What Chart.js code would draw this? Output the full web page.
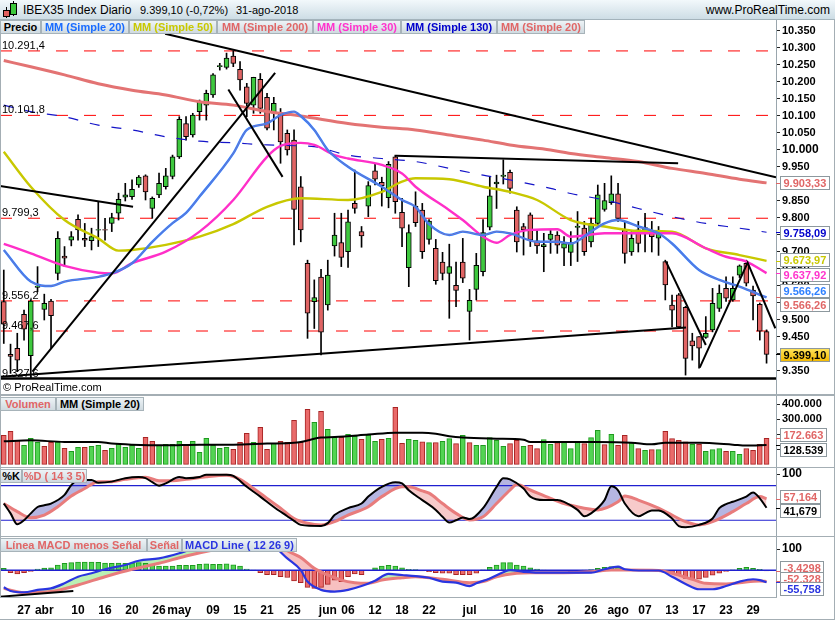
<!DOCTYPE html>
<html><head><meta charset="utf-8"><title>IBEX35 Index Diario</title>
<script src="https://cdn.jsdelivr.net/npm/chart.js@4.4.1/dist/chart.umd.min.js"></script>
<style>
html,body{margin:0;padding:0}
body{width:835px;height:620px;overflow:hidden;background:#fff;position:relative;font-family:"Liberation Sans",Arial,sans-serif}
#hdr{position:absolute;left:0;top:0;width:835px;height:20px;background:linear-gradient(#f2f8fb,#cddde5);border-bottom:1px solid #a3b3bb;box-sizing:border-box;z-index:6}
.ht{position:absolute;top:4px;font-size:11px;color:#000;white-space:nowrap;line-height:13px}
.lg{position:absolute;height:14px;line-height:12px;font-size:11px;font-weight:bold;text-align:center;white-space:nowrap;background:linear-gradient(#edf3f6,#cfdae0);border:1px solid #a7b3b9;box-sizing:border-box;z-index:5}
canvas{position:absolute;left:0;z-index:1}
.sep{position:absolute;background:#a4aeb4;z-index:4}
.abs{position:absolute;z-index:7}
</style></head><body>
<div id="hdr">
  <div class="abs" style="left:6px;top:7px;width:1px;height:11px;background:#000"></div>
  <div class="abs" style="left:3px;top:10px;width:7px;height:7px;background:#e06060;border:1px solid #000;box-sizing:border-box"></div>
  <div class="abs" style="left:13px;top:1px;width:1px;height:15px;background:#000"></div>
  <div class="abs" style="left:10px;top:3px;width:7px;height:12px;background:#3cc83c;border:1px solid #000;box-sizing:border-box"></div>
  <div class="ht" style="left:23px;font-size:12px">IBEX35 Index</div>
  <div class="ht" style="left:100px;font-size:12px">Diario</div>
  <div class="ht" style="left:140px">9.399,10 (-0,72%)</div>
  <div class="ht" style="left:236px">31-ago-2018</div>
  <div class="ht" style="right:5px;font-size:12px">www.ProRealTime.com</div>
</div>

<div class="lg" style="left:0;top:20px;width:41px;color:#000">Precio</div>
<div class="lg" style="left:41px;top:20px;width:88px;color:#1a6cff">MM (Simple 20)</div>
<div class="lg" style="left:129px;top:20px;width:88px;color:#c8c800">MM (Simple 50)</div>
<div class="lg" style="left:217px;top:20px;width:96px;color:#e06666">MM (Simple 200)</div>
<div class="lg" style="left:313px;top:20px;width:88px;color:#ff33cc">MM (Simple 30)</div>
<div class="lg" style="left:401px;top:20px;width:96px;color:#0000cc">MM (Simple 130)</div>
<div class="lg" style="left:497px;top:20px;width:88px;color:#e06666">MM (Simple 20)</div>

<div class="lg" style="left:0;top:397px;width:56px;color:#e06666">Volumen</div>
<div class="lg" style="left:56px;top:397px;width:88px;color:#000">MM (Simple 20)</div>

<div class="lg" style="left:0;top:469px;width:22px;color:#000">%K</div>
<div class="lg" style="left:22px;top:469px;width:65px;color:#e06666">%D ( 14 3 5)</div>

<div class="lg" style="left:0;top:538px;width:147px;color:#e06666">Línea MACD menos Señal</div>
<div class="lg" style="left:147px;top:538px;width:35px;color:#e06666">Señal</div>
<div class="lg" style="left:182px;top:538px;width:115px;color:#2a35e0">MACD Line ( 12 26 9)</div>

<div class="abs" style="left:3px;top:381px;font-size:11px;color:#000">© ProRealTime.com</div>

<canvas id="cPrice" width="835" height="374" style="top:20px"></canvas>
<canvas id="cVol" width="835" height="71" style="top:396px"></canvas>
<canvas id="cSto" width="835" height="68" style="top:468px"></canvas>
<canvas id="cMacd" width="835" height="83" style="top:537px"></canvas>

<div class="sep" style="left:0;top:394px;width:835px;height:2px"></div>
<div class="sep" style="left:0;top:467px;width:835px;height:1px"></div>
<div class="sep" style="left:0;top:536px;width:835px;height:1px"></div>
<div class="sep" style="left:0;top:597px;width:777px;height:1px"></div>
<div class="sep" style="left:0;top:619px;width:835px;height:1px"></div>
<div class="sep" style="left:0;top:20px;width:1px;height:577px"></div>
<div class="sep" style="left:834px;top:20px;width:1px;height:600px"></div>

<script>
const FONT = '"Liberation Sans", Arial, sans-serif';
// ---------------- DATA ----------------
// trading-day index: 0 = 10-abr-2018, first candle = -11 (22-mar-2018), last = 102 (31-ago-2018)
const FIRST = -11;
const openP = [9554,9399,9417,9517,9395,9596,9531,9556,9637,9688,9735,
  9796,9740,9733,9764,9766,9784,9814,9861,9863,9897,
  9924,9828,9868,9892,9922,9980,10078,10044,10113,10132,
  10162,10245,10243,10276,10237,10186,10132,10208,10155,10108,
  10108,10049,10029,9892,9667,9554,9626,9544,9718,9728,
  9701,9843,9760,9835,9939,9905,9860,9980,9817,9654,
  9835,9823,9737,9711,9670,9637,9602,9670,9525,9590,
  9642,9773,9900,9922,9934,9823,9775,9809,9733,9716,
  9737,9750,9711,9699,9772,9770,9730,9784,9825,9845,
  9871,9765,9700,9765,9755,9760,9741,9672,9544,9574,
  9537,9439,9451,9449,9471,9534,9593,9559,9632,9667,
  9588,9546,9466];
const highP = [9647,9429,9461,9529,9560,9657,9576,9561,9760,9716,9760,
  9809,9784,9770,9848,9799,9814,9873,9902,9912,9925,
  9927,9862,9932,9946,9985,10098,10098,10108,10147,10176,
  10225,10255,10285,10291,10260,10196,10214,10225,10167,10155,
  10122,10059,10059,9922,9676,9618,9649,9676,9814,9814,
  9823,9941,9775,9907,9961,9920,9966,9985,9858,9780,
  9877,9843,9795,9737,9699,9723,9670,9740,9590,9696,
  9795,9922,9926,9971,9941,9833,9784,9815,9765,9755,
  9765,9760,9745,9760,9819,9790,9800,9897,9902,9924,
  9902,9790,9760,9790,9814,9790,9775,9676,9573,9578,
  9540,9461,9451,9510,9593,9603,9627,9627,9662,9676,
  9600,9550,9471];
const lowP = [9431,9343,9348,9441,9328,9583,9500,9417,9618,9657,9718,
  9735,9716,9706,9716,9735,9760,9794,9850,9855,9890,
  9853,9799,9860,9885,9915,9975,10029,10038,10088,10088,
  10155,10235,10238,10245,10176,10098,10108,10108,10059,10059,
  9961,9985,9721,9730,9446,9475,9397,9529,9688,9657,
  9655,9814,9714,9804,9897,9835,9830,9814,9716,9598,
  9775,9681,9723,9605,9618,9505,9539,9610,9441,9559,
  9630,9765,9828,9900,9873,9700,9691,9716,9696,9642,
  9696,9696,9660,9660,9672,9690,9715,9775,9820,9840,
  9790,9667,9690,9700,9700,9700,9690,9559,9480,9475,
  9338,9382,9358,9446,9465,9525,9555,9555,9625,9600,
  9500,9441,9373];
const closeP = [9488,9393,9382,9473,9556,9600,9549,9513,9740,9682,9745,
  9765,9735,9745,9766,9764,9801,9855,9868,9884,9920,
  9877,9858,9902,9924,9980,10090,10039,10103,10142,10167,
  10221,10248,10270,10255,10206,10137,10214,10122,10064,10137,
  10024,10000,9825,9765,9520,9566,9464,9632,9750,9684,
  9789,9828,9747,9895,9914,9895,9958,9848,9770,9757,
  9786,9701,9791,9616,9637,9657,9587,9623,9558,9661,
  9757,9865,9906,9926,9887,9730,9765,9735,9718,9722,
  9753,9720,9725,9727,9776,9701,9784,9868,9851,9871,
  9799,9696,9740,9725,9772,9745,9755,9603,9529,9480,
  9387,9424,9417,9461,9549,9579,9564,9593,9659,9608,
  9571,9467,9399.10];

// moving averages (read at sample days)
const ma20X  = [-11,-7,-4,-2,3,5,8,11,14,16,18,23,25,28,30,32,33,35,37,40,45,48,50,52,55,57,60,62,64,68,71,73,76,78,80,83,86,88,92,95,98,102];
const ma20Y  = [9706,9613,9600,9613,9627,9637,9667,9730,9785,9815,9863,9990,10059,10078,10103,10113,10100,10059,10000,9951,9892,9853,9833,9782,9750,9760,9750,9760,9755,9730,9730,9725,9760,9784,9794,9775,9755,9725,9647,9618,9598,9566.26];
const ma50X  = [-11,-7,-2,3,6,8,13,18,23,28,33,40,45,48,50,55,60,64,68,73,78,83,88,93,98,102];
const ma50Y  = [9995,9892,9794,9740,9704,9706,9721,9745,9782,9833,9858,9853,9877,9907,9917,9914,9892,9877,9853,9794,9775,9762,9760,9711,9691,9673.97];
const ma200X = [-11,-7,-2,3,8,13,18,23,28,33,40,45,50,55,60,64,70,73,78,83,88,93,98,102];
const ma200Y = [10263,10245,10221,10195,10176,10162,10142,10132,10113,10100,10078,10067,10059,10044,10029,10015,10000,9990,9978,9966,9946,9931,9914,9903.33];
const ma30X  = [-11,-7,-2,3,5,8,13,18,23,28,30,33,35,38,40,45,48,50,55,57,60,62,64,67,71,73,78,83,88,93,96,99,102];
const ma30Y  = [9724,9696,9659,9639,9637,9667,9701,9760,9853,9980,10012,10021,10015,9985,9975,9956,9931,9892,9823,9794,9745,9727,9750,9765,9767,9745,9755,9755,9755,9711,9686,9672,9637.92];
const ma130X = [-11,-7,-2,3,8,13,18,23,28,33,35,40,45,50,55,60,64,70,73,78,83,88,93,98,102];
const ma130Y = [10132,10113,10098,10073,10059,10039,10026,10021,10015,10012,10010,9985,9975,9966,9946,9926,9912,9887,9872,9853,9828,9804,9784,9770,9758.09];

// drawn horizontal levels and trend lines (index, price)
const dashedLevels = [10291.4, 10101.8, 9799.3, 9556.2, 9467.6];
const supportLevel = 9327.6;
const trendLines = [
  [[12.9,10342],[103.4,9920]],
  [[-11.56,9894],[8.15,9833]],
  [[-6.77,9348],[29.2,10227]],
  [[22.27,10178],[30.3,9921]],
  [[-11.56,9333],[90.07,9478]],
  [[47.1,9983],[88.9,9961]],
  [[87.1,9671.5],[93.0,9426.5]],
  [[92.1,9359.7],[99.2,9668.5],[103.3,9475.6]]
];

// volume (thousands) and colour (1 = up)
const volK = [193,220,160,127,173,147,120,147,147,107,87,
  113,113,120,127,93,107,140,113,127,107,
  180,153,127,133,133,153,133,153,80,173,
  127,107,113,100,147,207,147,247,100,140,
  153,147,293,147,367,280,353,233,180,180,
  200,187,167,193,153,167,173,380,140,167,
  160,149,144,144,153,171,138,193,144,127,
  127,178,160,120,138,160,120,127,104,164,
  133,144,149,104,149,138,178,227,131,200,
  127,193,144,104,93,98,98,220,171,160,
  149,133,133,87,98,104,87,87,67,104,
  93,133,172.663];
const volUp = [0,0,0,1,1,1,0,0,1,0,1,
  1,0,1,1,0,1,1,1,1,1,
  0,0,1,1,1,1,0,1,1,1,
  1,1,1,0,0,0,1,0,0,1,
  0,0,0,0,0,1,0,1,1,0,
  1,1,0,1,1,0,1,0,0,1,
  1,0,1,0,1,1,0,1,0,1,
  1,1,1,1,0,0,1,0,0,1,
  1,0,1,1,1,0,1,1,0,1,
  0,0,1,0,1,0,1,0,0,0,
  0,1,0,1,1,1,0,1,1,0,
  0,0,0];
const vmaX = [-11,-7,-2,3,5,8,13,18,23,28,32,33,36,38,43,47,51,53,55,57,62,66,67,72,77,82,85,87,92,97,99,102];
const vmaK = [153,160,149,149,138,131,127,131,131,138,143,149,178,182,198,211,211,204,187,178,171,164,149,149,149,144,133,144,143,131,125,128.539];

// stochastic %K / %D (14 3 5)
const kX = [-11,-10,-9,-8,-7,-6,-5,-4,-2,-1,0,2,3,5,7,9,10,11,12,13,15,16,18,19,22,23,25,27,29,31,32,33,36,37,38,40,42,43,45,47,48,49,51,53,54,55,56,57,58,60,62,63,64,66,67,69,71,72,74,75,76,78,79,80,81,83,84,85,86,88,89,90,92,94,95,96,97,99,100,101,102];
const kY = [49,32,13,20,32,43,46,49,64,81,90,90,85,87,93,95,93,86,80,84,95,93,95,99,99,97,78,61,43,27,19,12,10,15,29,41,49,61,78,86,84,72,55,38,26,16,20,25,22,41,78,93,91,75,61,55,55,52,38,27,32,55,79,72,49,27,32,37,37,23,10,8,12,23,41,48,52,61,68,58,41.679];
const dX = [-11,-9,-7,-5,-3,-1,1,3,5,7,10,12,14,16,19,22,24,26,28,30,32,34,36,38,40,43,45,48,49,51,52,54,56,58,60,62,64,65,67,70,72,75,77,80,81,83,86,88,90,92,94,97,99,101,102];
const dY = [49,35,24.5,29,43.5,62,75,87,87,91,94.5,88.6,88.6,91,95.5,98,91,75,58,41,23,15,12,17.5,29,43.5,61,78,78,71,67,49,32,20.5,26,49,72.5,82,72.5,58,49,41,38,52,62,55,41,29,17.5,12,17.5,35,49,61,57.164];

// MACD (12 26 9)
const macdHist = [9,-11,-17,-11,-5,6,11,12,25,33,36,
  39,39,39,37,34,33,34,33,34,36,
  33,25,20,20,20,23,23,23,28,30,
  28,28,30,26,20,6,1,-11,-20,-20,
  -30,-34,-50,-58,-80,-85,-80,-66,-46,-53,
  -30,-17,-20,-2,12,20,23,20,12,4,
  3,-3,-6,-11,-14,-14,-20,-20,-20,-14,
  2,14,25,36,36,25,20,12,6,1,
  0,-1,-2,-5,-1,1,3,9,14,17,
  14,4,2,1,0,-1,-3,-9,-14,-23,
  -38,-42,-42,-33,-23,-14,-5,2,9,14,
  9,4,-3.4298];
const macdX = [-11,-10,-8,-6,-4,-2,0,2,4,7,9,12,15,18,20,23,26,28,29,31,33,34,36,38,40,42,44,46,48,50,52,54,56,58,59,61,63,64,66,70,73,76,78,80,81,84,86,88,90,92,94,96,98,100,101,102];
const macdY = [-80,-97,-103,-92,-85,-61,-30,-14,5,25,45,56,80,112,128,142,135,120,111,56,1,-53,-92,-100,-92,-74,-49,-17,-22,-27,-35,-53,-58,-74,-61,-38,-9,1,-7,-11,-11,-11,5,17,5,-1,-1,-30,-64,-89,-89,-74,-53,-42,-46,-55.758];
const sigX = [-11,-8,-4,0,4,8,12,16,20,23,26,28,30,31,33,35,37,39,41,43,45,48,50,54,58,60,62,65,67,72,76,79,81,86,88,91,93,96,98,101,102];
const sigY = [-85,-105,-100,-69,-30,5,33,67,95,112,125,130,115,92,60,9,-22,-46,-58,-61,-46,-35,-30,-42,-58,-53,-30,-14,-11,-11,-7,1,1,-1,-14,-42,-61,-64,-58,-50,-52.328];
const macdNote = [[-11.56,-124],[-0.7,-97]];

// x axis labels
const tickIdx = [-8,-5,0,4,8,12,15,20,24,28,32,37,40,44,48,52,58,64,68,72,76,80,84,88,92,96,100];
const tickLbl = ['27','abr','10','16','20','26','may','09','15','21','25','jun','06','12','18','22','jul','10','16','20','26','ago','07','13','17','23','29'];

// ---------------- HELPERS ----------------
const X_MIN = -11.56, X_MAX = 103.4;
const idx = openP.map((_, k) => FIRST + k);
const pts = (xs, ys, f) => xs.map((x, k) => ({x: x, y: f ? f(ys[k]) : ys[k]}));
const seg = (p) => p.map(q => ({x: q[0], y: q[1]}));
function fmtES(v, dec) {
  const s = Math.abs(v).toFixed(dec);
  let parts = s.split('.');
  const ip = parts[0].replace(/\B(?=(\d{3})+(?!\d))/g, '.');
  return (v < 0 ? '-' : '') + ip + (parts[1] ? ',' + parts[1] : '');
}
const GREEN = '#3ec83e', RED = '#e06464';

function xAxis(show) {
  return {
    type: 'linear', min: X_MIN, max: X_MAX, offset: false, display: show,
    grid: {display: false, drawTicks: false, tickLength: 0}, border: {display: false},
    afterBuildTicks: s => { s.ticks = tickIdx.map(v => ({value: v})); },
    afterFit: s => { if (show) s.height = 23; s.paddingLeft = 0; s.paddingRight = 0; },
    ticks: {autoSkip: false, maxRotation: 0, padding: 6, color: '#000',
      font: {family: FONT, size: 12, weight: 'bold'},
      callback: (v, i) => tickLbl[i]}
  };
}
function yAxis(min, max, ticks, fmt, big) {
  return {
    type: 'linear', position: 'right', min: min, max: max,
    grid: {drawOnChartArea: false, drawTicks: true, tickLength: 4, tickColor: '#222', tickWidth: 1},
    border: {display: true, color: '#9aa6ad', width: 1},
    afterBuildTicks: s => { s.ticks = ticks.map(v => ({value: v})); },
    afterFit: s => { s.width = 59; s.paddingTop = 0; s.paddingBottom = 0; },
    ticks: {padding: 2, color: '#000', autoSkip: false,
      font: c => ({family: FONT, size: (c.tick && c.tick.value === big) ? 12 : 11, weight: 'bold'}),
      callback: v => fmt(v)}
  };
}
const common = {
  responsive: false, animation: false, devicePixelRatio: 1, events: [],
  layout: {padding: 0, autoPadding: false},
  plugins: {legend: {display: false}, tooltip: {enabled: false}, filler: {drawTime: 'beforeDatasetsDraw'}}
};
function boxes(id, list, gap) {
  return {id: id, afterDraw(chart) {
    const ctx = chart.ctx, sc = chart.scales.y, ca = chart.chartArea;
    const items = list.map(b => Object.assign({}, b, {p0: sc.getPixelForValue(b.v)}));
    items.forEach(it => { it.p = it.p0; });
    const sorted = items.slice().sort((a, b) => a.p - b.p);
    for (let k = 0; k < 80; k++) {
      for (let j = 1; j < sorted.length; j++) {
        const d = sorted[j].p - sorted[j - 1].p;
        if (d < gap) { const s = (gap - d) / 2; sorted[j].p += s; sorted[j - 1].p -= s; }
      }
    }
    ctx.save();
    ctx.font = 'bold 11px ' + FONT;
    ctx.textBaseline = 'middle';
    items.forEach(it => {
      const w = Math.round(ctx.measureText(it.txt).width) + 6, h = 13;
      const x = ca.right + 4.5, y = Math.round(it.p - h / 2) + 0.5;
      ctx.strokeStyle = it.color; ctx.lineWidth = 1;
      ctx.beginPath(); ctx.moveTo(ca.right, Math.round(it.p0) + 0.5); ctx.lineTo(ca.right + 4, Math.round(it.p0) + 0.5); ctx.stroke();
      if (it.gold) {
        const g = ctx.createLinearGradient(0, y, 0, y + h);
        g.addColorStop(0, '#ffe45c'); g.addColorStop(1, '#f2b800');
        ctx.fillStyle = g;
      } else ctx.fillStyle = '#fff';
      ctx.fillRect(x, y, w, h);
      ctx.strokeStyle = '#8d989e'; ctx.strokeRect(x, y, w, h);
      ctx.fillStyle = it.gold ? '#000' : it.color;
      ctx.fillText(it.txt, x + 3, y + h / 2 + 0.5);
    });
    ctx.restore();
  }};
}
const line = (data, color, width, order, extra) => Object.assign({
  type: 'line', data: data, borderColor: color, borderWidth: width, pointRadius: 0,
  tension: 0.35, cubicInterpolationMode: 'monotone', fill: false, order: order
}, extra || {});
const straight = (data, color, width, order, extra) => Object.assign({
  type: 'line', data: data, borderColor: color, borderWidth: width, pointRadius: 0,
  tension: 0, fill: false, order: order
}, extra || {});

// ---------------- PRICE ----------------
const priceTicks = [];
for (let v = 9350; v <= 10350; v += 50) priceTicks.push(v);
const bodyCol = idx.map((_, k) => closeP[k] >= openP[k] ? GREEN : RED);
const lastOf = a => a[a.length - 1];

new Chart(document.getElementById('cPrice'), {
  type: 'bar',
  data: {datasets: [
    ...trendLines.map(t => straight(seg(t), '#000', 2, 0)),
    straight([{x: X_MIN, y: supportLevel}, {x: X_MAX, y: supportLevel}], '#000', 2.5, 0),
    line(pts(ma20X, ma20Y), 'rgba(232,112,112,0.4)', 1, 1),
    line(pts(ma20X, ma20Y), '#2a7cff', 2.4, 2),
    line(pts(ma30X, ma30Y), '#ff2fc8', 2.4, 3),
    line(pts(ma50X, ma50Y), '#c8c800', 2.4, 4),
    line(pts(ma130X, ma130Y), '#1414c8', 1.2, 5, {borderDash: [10, 12]}),
    line(pts(ma200X, ma200Y), '#e37373', 3, 6),
    {type: 'bar', data: idx.map((x, k) => ({x: x, y: [openP[k], closeP[k]]})),
      backgroundColor: bodyCol, borderColor: '#000', borderWidth: 1, borderSkipped: false,
      barThickness: 5, maxBarThickness: 5, grouped: false, order: 20},
    {type: 'bar', data: idx.map((x, k) => ({x: x, y: [lowP[k], highP[k]]})),
      backgroundColor: '#000', borderWidth: 0, barThickness: 1, maxBarThickness: 1, grouped: false, order: 21},
    ...dashedLevels.map(l => straight([{x: X_MIN, y: l}, {x: X_MAX, y: l}], '#ff0000', 1, 30, {borderDash: [12, 16]}))
  ]},
  options: Object.assign({}, common, {
    scales: {x: xAxis(false), y: yAxis(9282.35, 10382.35, priceTicks, v => fmtES(v, 0), 10000)}
  }),
  plugins: [
    {id: 'lvlText', afterDatasetsDraw(chart) {
      const ctx = chart.ctx, y = chart.scales.y;
      ctx.save(); ctx.font = '11px ' + FONT; ctx.fillStyle = '#000'; ctx.textBaseline = 'alphabetic';
      dashedLevels.concat([supportLevel]).forEach(l => ctx.fillText(fmtES(l, 1), 2, y.getPixelForValue(l) - 2));
      ctx.restore();
    }},
    boxes('pbox', [
      {v: lastOf(ma200Y), txt: fmtES(lastOf(ma200Y), 2), color: '#e06666'},
      {v: lastOf(ma130Y), txt: fmtES(lastOf(ma130Y), 2), color: '#0000cc'},
      {v: lastOf(ma50Y), txt: fmtES(lastOf(ma50Y), 2), color: '#c8c800'},
      {v: lastOf(ma30Y), txt: fmtES(lastOf(ma30Y), 2), color: '#ff33cc'},
      {v: lastOf(ma20Y), txt: fmtES(lastOf(ma20Y), 2), color: '#2f80ff'},
      {v: lastOf(ma20Y) - 0.001, txt: fmtES(lastOf(ma20Y), 2), color: '#e06666'},
      {v: lastOf(closeP), txt: fmtES(lastOf(closeP), 2), color: '#000', gold: true}
    ], 14.5)
  ]
});

// ---------------- VOLUME ----------------
new Chart(document.getElementById('cVol'), {
  type: 'bar',
  data: {datasets: [
    line(pts(vmaX, vmaK, v => v * 1000), '#000', 2, 0),
    {type: 'bar', data: idx.map((x, k) => ({x: x, y: volK[k] * 1000})),
      backgroundColor: volUp.map(u => u ? '#52d452' : '#ea6a6a'),
      borderColor: volUp.map(u => u ? '#1f9a1f' : '#a82424'),
      borderWidth: 1, borderSkipped: false, barThickness: 5, maxBarThickness: 5, grouped: false, order: 10}
  ]},
  options: Object.assign({}, common, {
    scales: {x: xAxis(false), y: yAxis(-18000, 455333, [100000, 200000, 300000, 400000], v => fmtES(v, 0), -1)}
  }),
  plugins: [boxes('vbox', [
    {v: lastOf(volK) * 1000, txt: fmtES(lastOf(volK) * 1000, 0), color: '#e06666'},
    {v: lastOf(vmaK) * 1000, txt: fmtES(lastOf(vmaK) * 1000, 0), color: '#000'}
  ], 15)]
});

// ---------------- STOCHASTIC ----------------
new Chart(document.getElementById('cSto'), {
  type: 'line',
  data: {datasets: [
    line(pts(kX, kY), '#000', 2, 0, {fill: {target: 1, above: 'rgba(120,120,200,0.55)', below: 'rgba(240,150,150,0.5)'}, tension: 0.2}),
    line(pts(dX, dY), '#e87c7c', 3, 1),
    straight([{x: X_MIN, y: 80}, {x: X_MAX, y: 80}], '#2020d0', 1.2, 2),
    straight([{x: X_MIN, y: 20}, {x: X_MAX, y: 20}], '#2020d0', 1.2, 2)
  ]},
  options: Object.assign({}, common, {
    scales: {x: xAxis(false), y: yAxis(-7.28, 110.63, [100], v => fmtES(v, 0), 100)}
  }),
  plugins: [boxes('sbox', [
    {v: lastOf(dY), txt: fmtES(lastOf(dY), 3), color: '#e06666'},
    {v: lastOf(kY), txt: fmtES(lastOf(kY), 3), color: '#000'}
  ], 14)]
});

// ---------------- MACD ----------------
new Chart(document.getElementById('cMacd'), {
  type: 'bar',
  data: {datasets: [
    line(pts(macdX, macdY), '#2a35e0', 2.2, 0, {fill: {target: 1, above: 'rgba(140,230,130,0.6)', below: 'rgba(240,140,140,0.55)'}}),
    line(pts(sigX, sigY), '#e87c7c', 3, 1),
    straight([{x: X_MIN, y: 0}, {x: X_MAX, y: 0}], '#2020d0', 1.5, 2),
    {type: 'bar', data: idx.map((x, k) => ({x: x, y: macdHist[k]})),
      backgroundColor: macdHist.map(v => v >= 0 ? '#52d452' : '#ea6a6a'),
      borderColor: macdHist.map(v => v >= 0 ? '#1f9a1f' : '#a82424'),
      borderWidth: 1, borderSkipped: false, barThickness: 5, maxBarThickness: 5, grouped: false, order: 10},
    straight(seg(macdNote), '#000', 2, 0)
  ]},
  options: Object.assign({}, common, {
    scales: {x: xAxis(true), y: yAxis(-125.35, 156.34, [100], v => fmtES(v, 0), 100)}
  }),
  plugins: [boxes('mbox', [
    {v: lastOf(macdHist), txt: fmtES(lastOf(macdHist), 4), color: '#e06666'},
    {v: lastOf(sigY), txt: fmtES(lastOf(sigY), 3), color: '#e06666'},
    {v: lastOf(macdY), txt: fmtES(lastOf(macdY), 3), color: '#2a35e0'}
  ], 10.5)]
});
</script>
</body></html>
